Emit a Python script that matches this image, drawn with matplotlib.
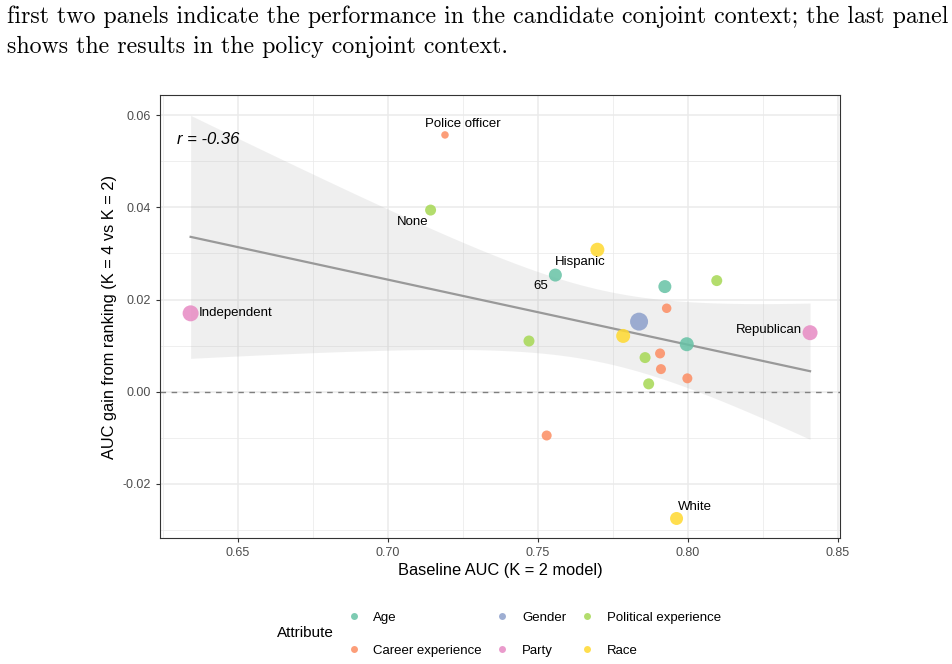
import numpy as np
import matplotlib
matplotlib.use('Agg')
import matplotlib.pyplot as plt
from matplotlib.lines import Line2D

# attribute levels: baseline AUC (K=2) vs. AUC gain from ranking (K=4 vs K=2)
attribute = ['Party', 'Career experience', 'Political experience', 'Race', 'Age',
             'Age', 'Political experience', 'Career experience', 'Gender', 'Party',
             'Race', 'Political experience', 'Age', 'Career experience', 'Political experience',
             'Career experience', 'Career experience', 'Political experience', 'Career experience', 'Race']
baseline_auc = [0.6343, 0.7191, 0.7143, 0.7699, 0.7559,
                0.7924, 0.8097, 0.7930, 0.7838, 0.8408,
                0.7785, 0.7471, 0.7997, 0.7908, 0.7858,
                0.7911, 0.7999, 0.7870, 0.7530, 0.7963]
auc_gain = [0.0170, 0.0557, 0.0394, 0.0308, 0.0253,
            0.0228, 0.0241, 0.0181, 0.0152, 0.0128,
            0.0121, 0.0110, 0.0103, 0.0083, 0.0074,
            0.0049, 0.0029, 0.0017, -0.0095, -0.0275]
# marker diameters in pixels
point_diam = [16, 7.5, 11, 14, 13,
              13, 11, 9.5, 18, 15,
              14, 11, 14, 10, 11,
              10, 10, 11, 10, 13]

# labelled points: (index, text, dx px, dy px, ha)
labels = [(0, 'Independent', 8, 0, 'left'),
          (1, 'Police officer', 18, 11, 'center'),
          (2, 'None', -18, -12, 'center'),
          (3, 'Hispanic', -17, -12, 'center'),
          (4, '65', -15, -11, 'center'),
          (9, 'Republican', -8, 3, 'right'),
          (19, 'White', 18, 11, 'center')]

levels = ['Age', 'Career experience', 'Gender', 'Party', 'Political experience', 'Race']
palette = {'Age': '#66C2A5', 'Career experience': '#FC8D62', 'Gender': '#8DA0CB',
           'Party': '#E78AC3', 'Political experience': '#A6D854', 'Race': '#FFD92F'}

x = np.array(baseline_auc)
y = np.array(auc_gain)

# linear fit with 95% CI (like geom_smooth(method = "lm"))
n = len(x)
slope, intercept = np.polyfit(x, y, 1)
resid = y - (slope * x + intercept)
s = np.sqrt(np.sum(resid ** 2) / (n - 2))
sxx = np.sum((x - x.mean()) ** 2)
t_crit = 2.100922  # t(0.975, df = 18)
xs = np.linspace(x.min(), x.max(), 100)
fit = slope * xs + intercept
se = s * np.sqrt(1.0 / n + (xs - x.mean()) ** 2 / sxx)

plt.rcParams['font.family'] = ['Liberation Sans', 'DejaVu Sans']

fig = plt.figure(figsize=(9.52, 6.64), dpi=100)
ax = fig.add_axes([0.1684, 0.1893, 0.714, 0.6672])

ax.set_xlim(0.6242, 0.8508)
ax.set_ylim(-0.0318, 0.0643)
ax.set_xticks([0.65, 0.70, 0.75, 0.80, 0.85])
ax.set_xticklabels(['0.65', '0.70', '0.75', '0.80', '0.85'])
ax.set_yticks([-0.02, 0.00, 0.02, 0.04, 0.06])
ax.set_yticklabels(['-0.02', '0.00', '0.02', '0.04', '0.06'])
ax.set_xticks([0.625, 0.675, 0.725, 0.775, 0.825], minor=True)
ax.set_yticks([-0.03, -0.01, 0.01, 0.03, 0.05], minor=True)
ax.grid(which='major', color='#EBEBEB', lw=1.1, zorder=0)
ax.grid(which='minor', color='#EBEBEB', lw=0.55, zorder=0)
ax.set_axisbelow(True)
ax.tick_params(which='major', length=3, width=0.8, color='#333333',
               labelsize=9, labelcolor='#4D4D4D')
ax.tick_params(which='minor', length=0)
for sp in ax.spines.values():
    sp.set_color('#333333')
    sp.set_linewidth(0.8)

ax.axhline(0, color='#7F7F7F', lw=1.0, ls=(0, (4, 4)), zorder=1)
ax.fill_between(xs, fit - t_crit * se, fit + t_crit * se, color='#999999',
                alpha=0.15, lw=0, zorder=2)
ax.plot(xs, fit, color='#999999', lw=1.6, zorder=3)

cols = [palette[a] for a in attribute]
sizes = [(d * 0.72) ** 2 for d in point_diam]
ax.scatter(x, y, s=sizes, c=cols, alpha=0.85, lw=0, zorder=4)

for i, txt, dx, dy, ha in labels:
    ax.annotate(txt, (x[i], y[i]), xytext=(dx, dy), textcoords='offset pixels',
                ha=ha, va='center', fontsize=9.5, color='black', zorder=5)

ax.text(0.025, 0.901, 'r = -0.36', transform=ax.transAxes, fontsize=12,
        style='italic', ha='left', va='center')

ax.set_xlabel('Baseline AUC (K = 2 model)', fontsize=11.8, labelpad=3)
ax.set_ylabel('AUC gain from ranking (K = 4 vs K = 2)', fontsize=11.8, labelpad=4)

# legend at the bottom, title on the left
handles = [Line2D([], [], marker='o', ls='', markersize=5, markerfacecolor=palette[l],
                  markeredgewidth=0, alpha=0.85) for l in levels]
fig.legend(handles, levels, ncol=3, loc='center left', bbox_to_anchor=(0.352, 0.045),
           frameon=False, fontsize=9.5, handletextpad=1.0, columnspacing=1.05,
           labelspacing=1.55, handlelength=1.0)
fig.text(0.291, 0.046, 'Attribute', fontsize=11, ha='left', va='center')

# caption text from the page above the figure
fig.text(0.007, 0.975, 'first two panels indicate the performance in the candidate conjoint context; the last panel',
         fontfamily='cmr10', fontsize=17.2, ha='left', va='center')
fig.text(0.007, 0.93, 'shows the results in the policy conjoint context.',
         fontfamily='cmr10', fontsize=17.2, ha='left', va='center')

fig.savefig('out.png', dpi=100)
